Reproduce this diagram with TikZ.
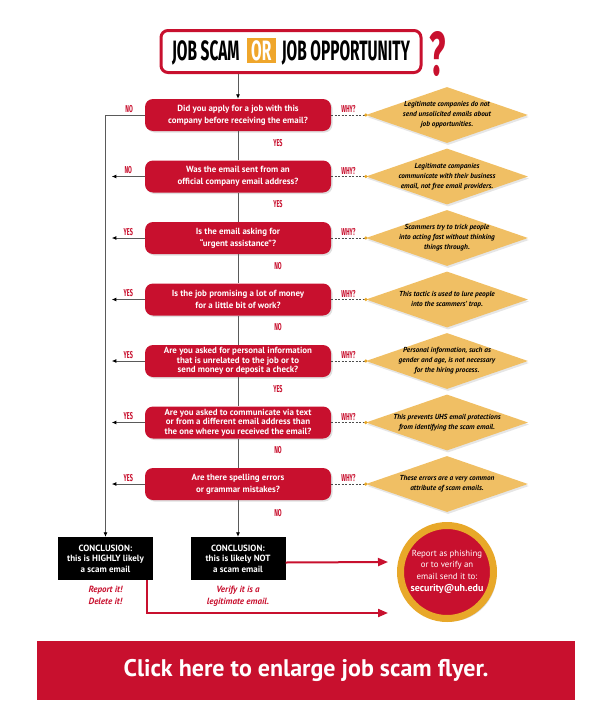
\documentclass[tikz,border=0pt]{standalone}
\usepackage{fontspec}
\usepackage{xcolor}
\setmainfont{PT Sans}
\newfontfamily\titlefont{Fira Sans}[FakeStretch=0.55]
\usetikzlibrary{positioning,shapes.geometric,arrows.meta,shadows}

\definecolor{uhred}{HTML}{C8102E}
\definecolor{whygold}{HTML}{F0BF64}
\definecolor{ringgold}{HTML}{E8A829}
\definecolor{orgold}{HTML}{EFA62B}
\definecolor{linegray}{HTML}{5A5A5A}

\begin{document}
\begin{tikzpicture}[x=1pt, y=-1pt, node distance=61.5pt]
    % Define styles
    \tikzstyle{question} = [rectangle, fill=uhred, text=white, rounded corners=8pt, minimum width=186pt, minimum height=32pt, inner sep=0pt, align=center, font=\fontsize{8.9}{9.6}\selectfont\bfseries, drop shadow={opacity=0.25, shadow xshift=1.5pt, shadow yshift=-1.5pt}]
    \tikzstyle{reason} = [diamond, fill=whygold, minimum width=162pt, minimum height=56pt, inner sep=0pt, drop shadow={opacity=0.2, shadow xshift=1pt, shadow yshift=-2pt}]
    \tikzstyle{reasontext} = [align=center, font=\fontsize{7.3}{10}\selectfont\bfseries\itshape]
    \tikzstyle{conclusion} = [rectangle, fill=black, text=white, minimum width=95pt, minimum height=43pt, align=center, font=\fontsize{9}{10.5}\selectfont\bfseries]
    \tikzstyle{note} = [text=uhred, align=center, font=\fontsize{9}{12}\selectfont\bfseries\itshape]
    \tikzstyle{lbl} = [text=uhred, inner sep=0pt, font=\titlefont\bfseries\fontsize{10}{10}\selectfont]
    \tikzstyle{arrow} = [draw=linegray, line width=0.8pt, -{Latex[length=4.5pt,width=4pt,color=black]}]
    \tikzstyle{flowline} = [draw=linegray, line width=0.8pt]
    \tikzstyle{whyline} = [draw=black!70, line width=0.6pt, dash pattern=on 2pt off 1.5pt]
    \tikzstyle{redarrow} = [draw=uhred, line width=2pt, -{Triangle[length=10pt,width=8pt]}]

    \useasboundingbox (0,0) rectangle (612,720);

    % Title
    \node [draw=uhred, line width=3pt, rounded corners=7pt, minimum width=260pt, minimum height=42pt, inner sep=0pt, font=\titlefont\bfseries\fontsize{28}{28}\selectfont] (title) at (291,51.5) {JOB SCAM\hspace{7pt}{\setlength{\fboxsep}{2.5pt}\colorbox{orgold}{\hspace{2pt}\textcolor{white}{OR}\hspace{2pt}}}\hspace{6pt}JOB OPPORTUNITY};
    \node [text=uhred, inner sep=0pt, font=\titlefont\bfseries\fontsize{62}{62}\selectfont] (qmark) at (438,54) {?};

    % Questions
    \node [question] (q1) at (238,115) {Did you apply for a job with this\\[2pt] company before receiving the email?};
    \node [question, below of=q1] (q2) {Was the email sent from an\\[2pt] official company email address?};
    \node [question, below of=q2] (q3) {Is the email asking for\\[2pt] “urgent assistance”?};
    \node [question, below of=q3] (q4) {Is the job promising a lot of money\\[2pt] for a little bit of work?};
    \node [question, below of=q4] (q5) {Are you asked for personal information\\ that is unrelated to the job or to\\ send money or deposit a check?};
    \node [question, below of=q5] (q6) {Are you asked to communicate via text\\ or from a different email address than\\ the one where you received the email?};
    \node [question, below of=q6] (q7) {Are there spelling errors\\[2pt] or grammar mistakes?};

    % Reasons
    \node [reason, right of=q1, xshift=147.5pt] (w1) {};
    \node [reason, right of=q2, xshift=147.5pt] (w2) {};
    \node [reason, right of=q3, xshift=147.5pt] (w3) {};
    \node [reason, right of=q4, xshift=147.5pt] (w4) {};
    \node [reason, right of=q5, xshift=147.5pt] (w5) {};
    \node [reason, right of=q6, xshift=147.5pt] (w6) {};
    \node [reason, right of=q7, xshift=147.5pt] (w7) {};
    \node [reasontext] (t1) at (w1) {Legitimate companies do not\\ send unsolicited emails about\\ job opportunities.};
    \node [reasontext] (t2) at (w2) {Legitimate companies\\ communicate with their business\\ email, not free email providers.};
    \node [reasontext] (t3) at (w3) {Scammers try to trick people\\ into acting fast without thinking\\ things through.};
    \node [reasontext] (t4) at (w4) {This tactic is used to lure people\\ into the scammers’ trap.};
    \node [reasontext] (t5) at (w5) {Personal information, such as\\ gender and age, is not necessary\\ for the hiring process.};
    \node [reasontext] (t6) at (w6) {This prevents UHS email protections\\ from identifying the scam email.};
    \node [reasontext] (t7) at (w7) {These errors are a very common\\ attribute of scam emails.};

    % Conclusions
    \node [conclusion] (scam) at (105.5,558.5) {CONCLUSION:\\ this is HIGHLY likely\\ a scam email};
    \node [conclusion, right of=scam, xshift=71pt] (notscam) {CONCLUSION:\\ this is likely NOT\\ a scam email};
    \node [note, below=2pt of scam] (deleteit) {Report it!\\ Delete it!};
    \node [note, below=2pt of notscam] (verifyit) {Verify it is a\\ legitimate email.};

    \node [circle, fill=uhred, draw=ringgold, line width=7pt, minimum size=93pt, inner sep=0pt, text=white, align=center, font=\fontsize{8.8}{11.5}\selectfont, drop shadow={opacity=0.3, shadow xshift=3pt, shadow yshift=-3pt}] (report) at (447,572) {Report as phishing\\ or to verify an\\ email send it to:\\[1pt] {\fontsize{10}{12}\selectfont\bfseries security@uh.edu}};

    \node [fill=uhred, minimum width=538pt, minimum height=59pt, text=white, font=\fontsize{24}{24}\selectfont\bfseries] (flyer) at (306,670.5) {Click here to enlarge job scam flyer.};

    % Main flow
    \draw [arrow] (title.south -| q1.north) -- (q1.north);
    \foreach \i/\j/\ans in {1/2/YES, 2/3/YES, 3/4/NO, 4/5/NO, 5/6/YES, 6/7/NO}
        \draw [flowline] (q\i) -- node [lbl, pos=0.4, xshift=40pt] {\ans} (q\j);
    \draw [arrow] (q7) -- node [lbl, pos=0.35, xshift=40pt] {NO} (notscam);

    % Side exits
    \draw [arrow] (q1.west) -- node [lbl, above=2pt, pos=0.4] {NO} (q1.west -| scam.north) -- (scam.north);
    \foreach \i/\ans in {2/NO, 3/YES, 4/YES, 5/YES, 6/YES, 7/YES}
        \draw [arrow] (q\i.west) -- node [lbl, above=2pt] {\ans} ++(-33pt,0);

    % Why links
    \foreach \i in {1,...,7} {
        \draw [whyline] (q\i.east) -- node [lbl, above=2pt] {WHY?} (w\i.west);
        \fill [ringgold] (w\i.west) circle (1.8pt);
    }

    % Red links
    \coordinate (tip1) at (388,562);
    \coordinate (tip2) at (388,613);
    \draw [redarrow] ([yshift=-4pt]notscam.east) -- (tip1);
    \draw [redarrow] ([xshift=41pt]scam.south) |- (tip2);
\end{tikzpicture}
\end{document}
